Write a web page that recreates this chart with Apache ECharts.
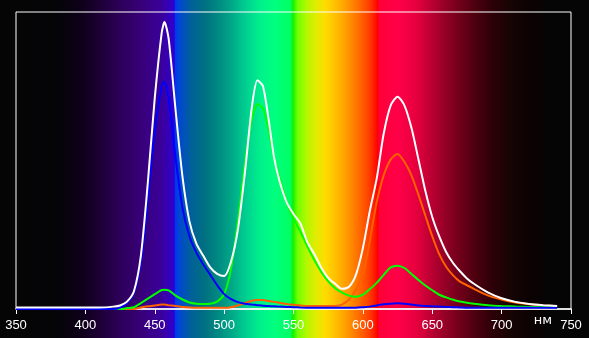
<!DOCTYPE html>
<html>
<head>
<meta charset="utf-8">
<script src="https://cdn.jsdelivr.net/npm/echarts@6/dist/echarts.min.js"></script>
<style>
html,body{margin:0;padding:0;background:#050505;}
#c{width:589px;height:338px;}
</style>
</head>
<body>
<div id="c"></div>
<script>
// Wavelengths (nm)
const wavelengths = [350,360,370,380,390,400,410,420,425,430,435,440,445,450,455,457,460,465,470,475,480,485,490,495,500,505,510,515,520,524,528,532,536,540,545,550,555,560,565,570,575,580,585,590,595,600,605,610,615,620,625,630,635,640,645,650,655,660,665,670,675,680,690,700,710,720,730,740];
// Relative intensity (% of plot height)
const whiteVals  = [0.5,0.5,0.5,0.5,0.5,0.5,0.5,0.8,1.2,2.5,6,18,42.5,71,93,96.6,91,67,44.5,29.5,22,17.9,14,11.8,11.1,16,27,46,68,77,75,64,51,43,36,32,28.8,22.5,18.5,14,10.5,8.5,6.8,7.5,11.5,20.5,33,44,59,68.5,71.5,68.5,61,50.5,39.8,31,24.5,19.2,15.5,12.7,10.3,8.5,5.6,3.6,2.4,1.7,1.3,1.0];
const blueVals   = [0,0,0,0,0,0,0,0,0.5,2,5.5,15.5,36.5,60,75,76.5,71,51,34,24.5,19,15,11.5,8,5,3.3,2.3,1.8,1.5,1.3,1.1,1.0,0.9,0.8,0.7,0.6,0.5,0.45,0.45,0.45,0.45,0.45,0.45,0.45,0.45,0.6,0.8,1.2,1.6,1.8,1.9,1.8,1.5,1.2,1.0,0.9,0.8,0.7,0.6,0.5,0.4,0.4,0.4,0.4,0.4,0.4,0.4,0.4];
const greenVals  = [0,0,0,0,0,0,0,0,0,0.3,0.6,2,3.5,5,6.4,6.5,6.3,4.5,3.2,2.2,1.8,1.7,1.8,2.5,5,13.5,30,49,64,69,67.5,60.5,51,44,36,30.5,26,21,16.5,12.5,9.3,7,5.5,4.5,4.1,4.8,6.7,8.8,11.5,14,14.6,13.8,11.8,9.8,7.9,6.3,4.8,3.9,3.1,2.5,2.1,1.8,1.3,1.0,0.8,0.7,0.6,0.5];
const orangeVals = [0,0,0,0,0,0,0,0,0,0,0,0.5,0.9,1.2,1.5,1.5,1.3,1.0,0.7,0.5,0.4,0.4,0.4,0.4,0.4,0.6,1.2,2.0,2.8,3.0,3.0,2.7,2.4,2.1,1.7,1.4,1.2,1.0,1.0,1.0,1.0,1.0,1.5,3.2,6.5,11.5,23,36,45,50.3,52.2,49.5,45,38.5,31.5,24.5,18.5,14.2,11.3,9.2,8,6.8,4.6,3.2,2.2,1.6,1.2,0.9];

// Spectrum background colour stops (nm, colour)
const bgStops = [
  [340,'#050505'],[380,'#050508'],[395,'#0c0016'],[410,'#1c0034'],[425,'#2c0058'],[440,'#380078'],[455,'#3a009c'],[462,'#3200c4'],[464,'#2a00d0'],[465,'#0038f0'],[468,'#0048d0'],[476,'#00609a'],[486,'#007080'],[496,'#008a82'],[506,'#00aa88'],[516,'#00d090'],[526,'#00f08c'],[536,'#00ff80'],[548,'#00ff60'],[549.5,'#10f000'],[553,'#70ff00'],[559,'#b0f800'],[566,'#e0ec00'],[573,'#ffdc00'],[581,'#ffbc00'],[589,'#ff9800'],[597,'#ff6c00'],[604,'#ff4200'],[608.5,'#ff1a00'],[610.5,'#ff0000'],[612,'#ff0038'],[625,'#ff0048'],[638,'#e8003e'],[652,'#b00030'],[665,'#800020'],[680,'#500010'],[692,'#300008'],[705,'#180404'],[720,'#0c0202'],[735,'#050505']
];

const toPairs = v => wavelengths.map((w,i)=>[w, v[i]]);
const chart = echarts.init(document.getElementById('c'), null, {renderer:'canvas'});
const lineS = (name, vals, color) => ({
  name, type:'line', data: toPairs(vals), showSymbol:false, symbol:'none',
  smooth:0.25,
  lineStyle:{color, width:2}, itemStyle:{color}, animation:false, z:3
});
chart.setOption({
  animation:false,
  backgroundColor:'transparent',
  grid:{left:16,right:18,top:12,bottom:29,show:true,borderColor:'#ffffff',borderWidth:1,backgroundColor:'transparent'},
  xAxis:{type:'value',min:350,max:750,interval:50,
    axisLine:{show:true,lineStyle:{color:'#ffffff',width:1.5}},
    axisTick:{show:true,length:5,lineStyle:{color:'#ffffff',width:1}},
    axisLabel:{color:'#ffffff',fontSize:13,fontFamily:'Liberation Sans, Arial, sans-serif',margin:10},
    splitLine:{show:false}},
  yAxis:{type:'value',min:0,max:100,show:false,splitLine:{show:false}},
  series:[
    lineS('orange',orangeVals,'#ff6000'),
    lineS('green',greenVals,'#00ff00'),
    lineS('blue',blueVals,'#0000ff'),
    lineS('white',whiteVals,'#ffffff')
  ]
});
// Build background gradient aligned to the x axis
const W = 589, H = 338;
const colorStops = bgStops.map(([nm,c]) => {
  const px = chart.convertToPixel({xAxisIndex:0}, nm);
  return {offset: Math.min(1, Math.max(0, px / W)), color: c};
});
colorStops.unshift({offset:0,color:'#050505'});
colorStops.push({offset:1,color:'#050505'});
const nmPos = chart.convertToPixel({xAxisIndex:0}, 737);
chart.setOption({
  graphic:[
    {type:'rect', z:-10, silent:true, shape:{x:0,y:0,width:W,height:H},
      style:{fill:new echarts.graphic.LinearGradient(0,0,1,0,colorStops)}},
    {type:'text', z:10, silent:true, x:nmPos-10, y:314,
      style:{text:'нм', fill:'#ffffff', font:'13px "DejaVu Sans", sans-serif', textAlign:'center'}}
  ]
});
</script>
</body>
</html>
